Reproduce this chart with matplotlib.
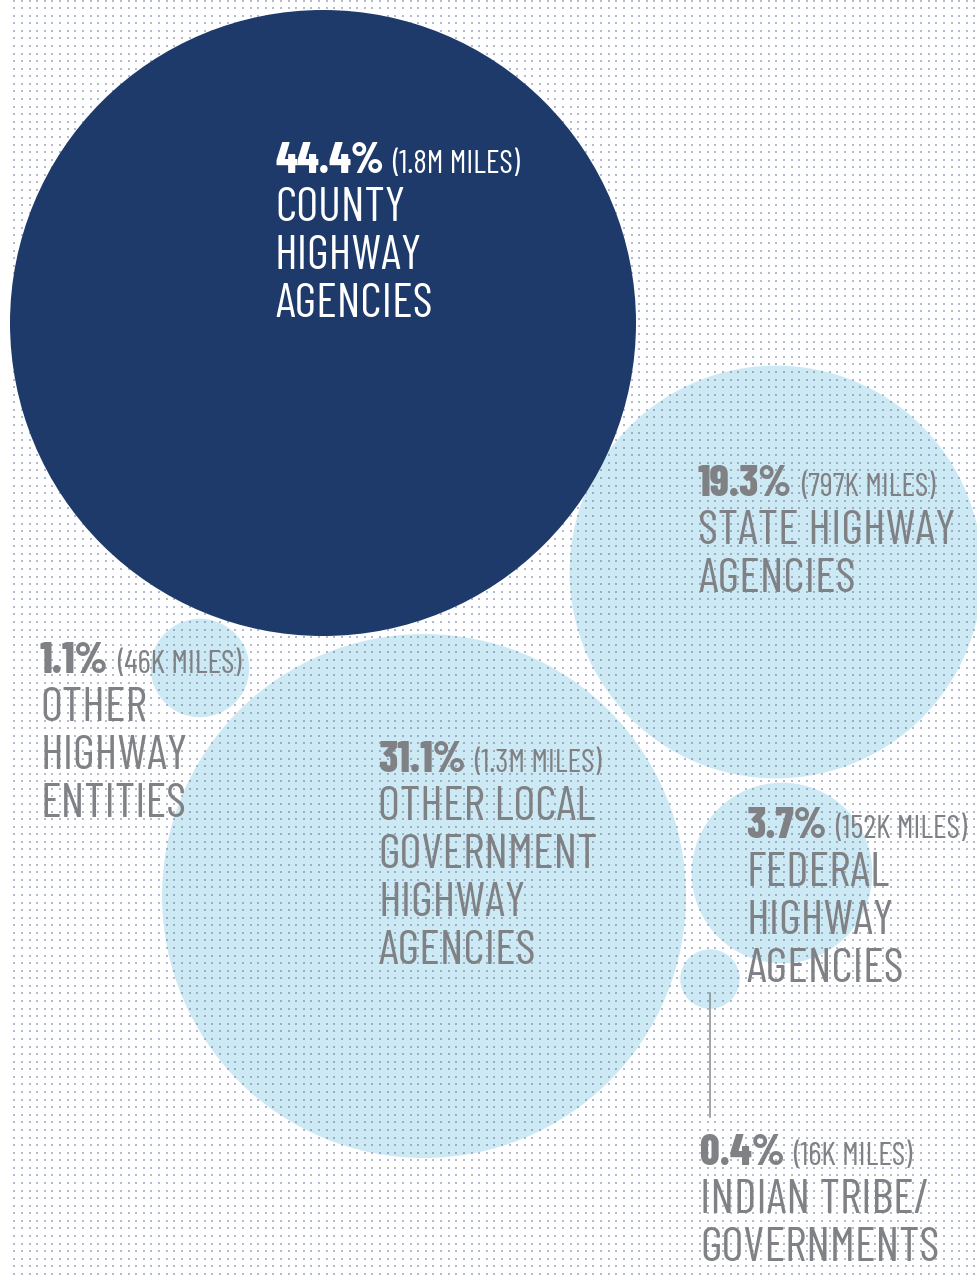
import numpy as np
import matplotlib
matplotlib.use("Agg")
from matplotlib import pyplot as plt
from matplotlib.patches import Circle

# data
shares = [44.4, 19.3, 1.1, 31.1, 3.7, 0.4]
miles = ["1.8M", "797K", "46K", "1.3M", "152K", "16K"]
names = [
    ["COUNTY", "HIGHWAY", "AGENCIES"],
    ["STATE HIGHWAY", "AGENCIES"],
    ["OTHER", "HIGHWAY", "ENTITIES"],
    ["OTHER LOCAL", "GOVERNMENT", "HIGHWAY", "AGENCIES"],
    ["FEDERAL", "HIGHWAY", "AGENCIES"],
    ["INDIAN TRIBE/", "GOVERNMENTS"],
]

# layout (pixels, origin top-left)
centers = [(323, 323), (776, 572), (200, 668), (424, 896), (782, 873), (710, 979)]
label_xy = [(275, 173), (698, 496), (40, 673), (378, 772), (746, 838), (700, 1165)]
R_MAX = 313
NAVY = "#1d3a6a"
LIGHT = "#cde9f3"
GREY = "#808185"
FONT = "Barlow Condensed"

fig = plt.figure(figsize=(9.77, 12.81), dpi=100)
ax = fig.add_axes([0, 0, 1, 1])
ax.set_xlim(0, 977)
ax.set_ylim(1281, 0)
ax.axis("off")

# light bubbles first, then dot screen, then the big dark one on top
for i, (s, c) in enumerate(zip(shares, centers)):
    r = R_MAX * np.sqrt(s / max(shares))
    dark = s == max(shares)
    ax.add_patch(Circle(c, r, facecolor=NAVY if dark else LIGHT,
                        edgecolor="none", zorder=3 if dark else 1))

gx, gy = np.meshgrid(np.arange(14.3, 975, 7.62), np.arange(0.5, 1280, 7.58))
ax.scatter(gx.ravel(), gy.ravel(), s=1.7, marker="s", linewidths=0,
           color="#56679a", alpha=0.45, zorder=2)

# leader for the tiny tribal bubble
ax.plot([710, 710], [993, 1117], color="#8a8a8c", lw=1.1, zorder=4)

pitch = 48
for i, (s, m, lines) in enumerate(zip(shares, miles, names)):
    x, y = label_xy[i]
    col = "white" if s == max(shares) else GREY
    pct = ax.text(x, y, f"{s:.1f}%", color=col, fontsize=31, fontweight=800,
                  family=FONT, va="baseline", ha="left", zorder=5)
    ax.annotate(f"({m} MILES)", xy=(1, y), xycoords=(pct, "data"),
                xytext=(9, 0), textcoords="offset pixels",
                color=col, fontsize=23, family=FONT, va="baseline",
                ha="left", zorder=5)
    for k, line in enumerate(lines):
        ax.text(x, y + pitch * (k + 1), line, color=col, fontsize=34.5,
                fontweight=400, family=FONT, va="baseline", ha="left", zorder=5)

fig.savefig("out.png", dpi=100)
